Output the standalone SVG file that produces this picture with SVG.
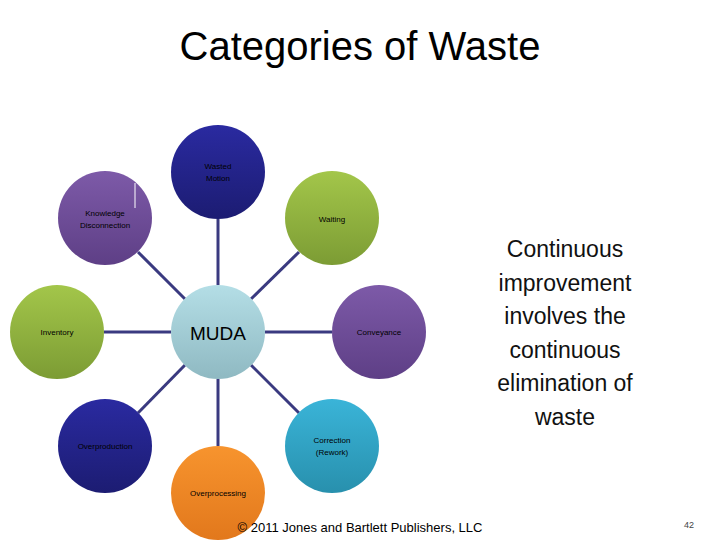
<svg xmlns="http://www.w3.org/2000/svg" width="720" height="540" viewBox="0 0 720 540">
<defs>
<linearGradient id="blue" x1="0" y1="0" x2="0" y2="1"><stop offset="0" stop-color="#2a2aa0"/><stop offset="1" stop-color="#1c1c72"/></linearGradient>
<linearGradient id="purple" x1="0" y1="0" x2="0" y2="1"><stop offset="0" stop-color="#7d5aa8"/><stop offset="1" stop-color="#5e3f86"/></linearGradient>
<linearGradient id="green" x1="0" y1="0" x2="0" y2="1"><stop offset="0" stop-color="#a3c64a"/><stop offset="1" stop-color="#7c9c34"/></linearGradient>
<linearGradient id="teal" x1="0" y1="0" x2="0" y2="1"><stop offset="0" stop-color="#3ab4d8"/><stop offset="1" stop-color="#2890ad"/></linearGradient>
<linearGradient id="orange" x1="0" y1="0" x2="0" y2="1"><stop offset="0" stop-color="#f7942e"/><stop offset="1" stop-color="#e2781c"/></linearGradient>
<linearGradient id="center" x1="0" y1="0" x2="0" y2="1"><stop offset="0" stop-color="#b4dee6"/><stop offset="1" stop-color="#8fb9c2"/></linearGradient>
</defs>
<style>
.t{font-family:"Liberation Sans",Arial,sans-serif;font-size:8px;text-anchor:middle}
.w{fill:#ffffff}.k{fill:#000000}
line{stroke:#3a3a80;stroke-width:3}
</style>
<rect width="720" height="540" fill="#ffffff"/>
<text x="360" y="60" font-family="Liberation Sans,Arial,sans-serif" font-size="40" text-anchor="middle">Categories of Waste</text>
<g id="connectors">
<line x1="218" y1="285" x2="218" y2="219"/>
<line x1="185" y1="299" x2="138" y2="252"/>
<line x1="251" y1="299" x2="299" y2="252"/>
<line x1="171" y1="332" x2="104" y2="332"/>
<line x1="265" y1="332" x2="332" y2="332"/>
<line x1="185" y1="365" x2="138" y2="413"/>
<line x1="251" y1="365" x2="299" y2="413"/>
<line x1="218" y1="379" x2="218" y2="446"/>
</g>
<g id="wasted-motion"><circle cx="218" cy="172" r="47" fill="url(#blue)"/><text class="t k" x="218" y="169">Wasted</text><text class="t k" x="218" y="181">Motion</text></g>
<g id="knowledge"><circle cx="105" cy="218" r="47" fill="url(#purple)"/><line x1="135" y1="183" x2="135" y2="208" style="stroke:#ffffff;stroke-width:1"/><text class="t k" x="105" y="216">Knowledge</text><text class="t k" x="105" y="228">Disconnection</text></g>
<g id="waiting"><circle cx="332" cy="218" r="47" fill="url(#green)"/><text class="t k" x="332" y="222">Waiting</text></g>
<g id="inventory"><circle cx="57" cy="332" r="47" fill="url(#green)"/><text class="t k" x="57" y="335">Inventory</text></g>
<g id="muda"><circle cx="218" cy="332" r="47" fill="url(#center)"/><text x="218" y="340" font-family="Liberation Sans,Arial,sans-serif" font-size="19" text-anchor="middle">MUDA</text></g>
<g id="conveyance"><circle cx="379" cy="332" r="47" fill="url(#purple)"/><text class="t k" x="379" y="335">Conveyance</text></g>
<g id="overproduction"><circle cx="105" cy="446" r="47" fill="url(#blue)"/><text class="t k" x="105" y="449">Overproduction</text></g>
<g id="correction"><circle cx="332" cy="446" r="47" fill="url(#teal)"/><text class="t k" x="332" y="443">Correction</text><text class="t k" x="332" y="455">(Rework)</text></g>
<g id="overprocessing"><circle cx="218" cy="493" r="47" fill="url(#orange)"/><text class="t k" x="218" y="496">Overprocessing</text></g>
<g id="note" font-family="Liberation Sans,Arial,sans-serif" font-size="23" text-anchor="middle" fill="#111">
<text x="565" y="257">Continuous</text>
<text x="565" y="291">improvement</text>
<text x="565" y="324">involves the</text>
<text x="565" y="358">continuous</text>
<text x="565" y="391">elimination of</text>
<text x="565" y="425">waste</text>
</g>
<text x="360" y="532" font-family="Liberation Sans,Arial,sans-serif" font-size="13" text-anchor="middle">© 2011 Jones and Bartlett Publishers, LLC</text>
<text x="689" y="528" font-family="Liberation Sans,Arial,sans-serif" font-size="9" text-anchor="middle" fill="#444">42</text>
</svg>
